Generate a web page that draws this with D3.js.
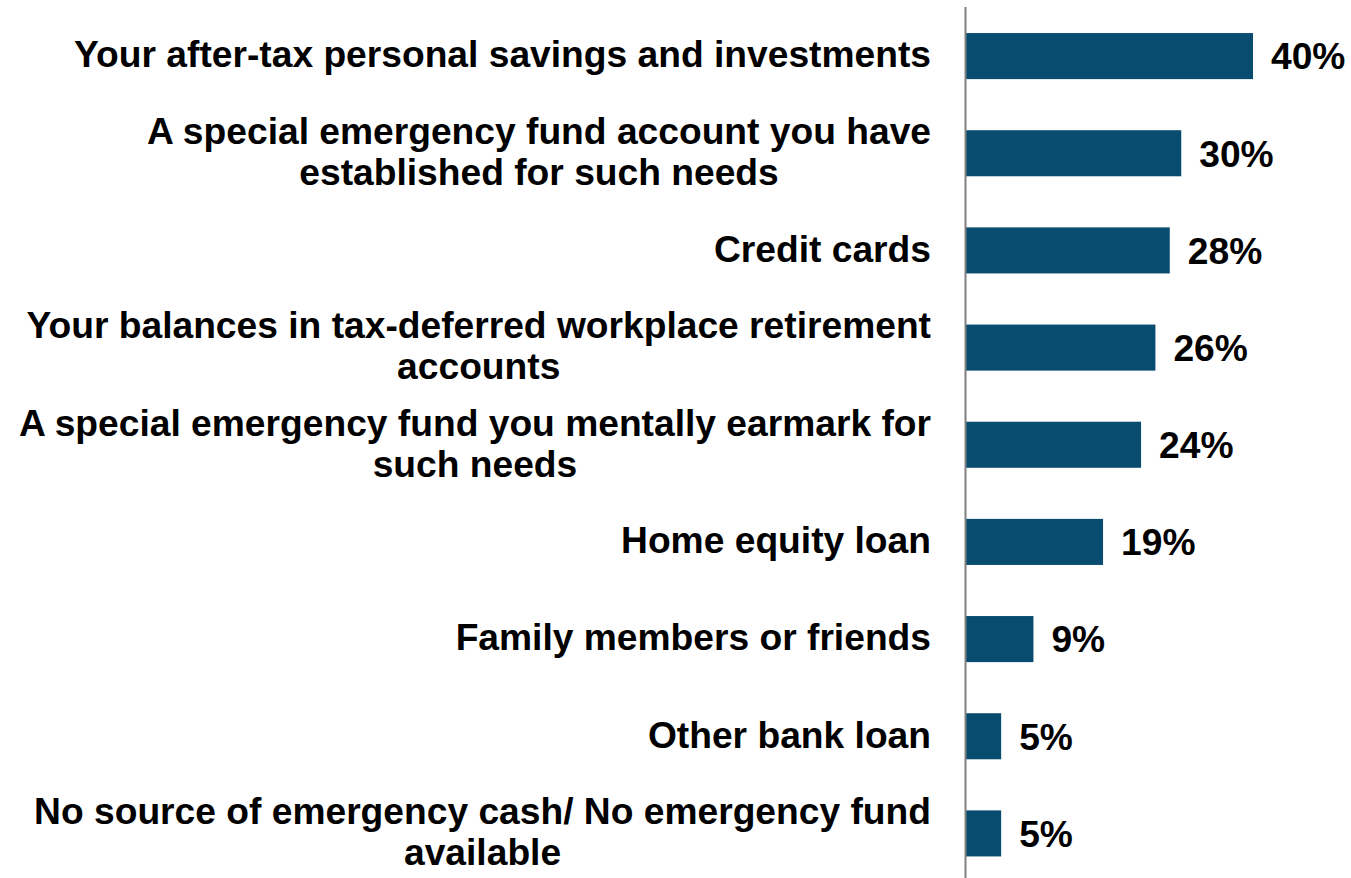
<!DOCTYPE html>
<html>
<head>
<meta charset="utf-8">
<script src="https://cdn.jsdelivr.net/npm/d3@7"></script>
<style>
  body { margin: 0; background: #fff; }
  text { font-family: "Liberation Sans", Arial, sans-serif; font-weight: bold; }
</style>
</head>
<body>
<script>
// categories, one entry per line of the label
var categories = [
  ['Your after-tax personal savings and investments'],
  ['A special emergency fund account you have', 'established for such needs'],
  ['Credit cards'],
  ['Your balances in tax-deferred workplace retirement', 'accounts'],
  ['A special emergency fund you mentally earmark for', 'such needs'],
  ['Home equity loan'],
  ['Family members or friends'],
  ['Other bank loan'],
  ['No source of emergency cash/ No emergency fund', 'available']
];
var values = [40.0, 30.0, 28.4, 26.4, 24.4, 19.1, 9.4, 4.9, 4.9];

var width = 1351,
    height = 878;
var axisX = 966;
var fontSize = 37.2;
var lineHeight = 41;

var svg = d3.select('body')
  .append('svg')
  .attr('width', width)
  .attr('height', height);

var x = d3.scaleLinear()
  .domain([0, 40])
  .range([axisX, 1253]);

var y = d3.scaleBand()
  .domain(d3.range(values.length))
  .range([7.5, 882])
  .paddingInner(0.526)
  .paddingOuter(0.263);

svg.selectAll('rect.bar')
  .data(values)
  .enter()
  .append('rect')
  .attr('class', 'bar')
  .attr('x', x(0))
  .attr('y', function(d, i) { return y(i); })
  .attr('width', function(d) { return x(d) - x(0); })
  .attr('height', y.bandwidth())
  .attr('fill', '#084c70');

// axis line
svg.append('line')
  .attr('x1', axisX - 0.5)
  .attr('x2', axisX - 0.5)
  .attr('y1', 7)
  .attr('y2', height)
  .attr('stroke', '#808080')
  .attr('stroke-width', 2);

var fmt = d3.format('.0f');
svg.selectAll('text.value')
  .data(values)
  .enter()
  .append('text')
  .attr('class', 'value')
  .attr('x', function(d) { return x(d) + 18; })
  .attr('y', function(d, i) { return y(i) + y.bandwidth() / 2; })
  .attr('dy', '0.36em')
  .attr('font-size', fontSize)
  .attr('fill', '#000')
  .text(function(d) { return fmt(d) + '%'; });

// category labels: centered lines, block right-aligned at labelRight
var labelRight = 931;
categories.forEach(function(lines, i) {
  var cy = y(i) + y.bandwidth() / 2;
  var t = svg.append('text')
    .attr('font-size', fontSize)
    .attr('fill', '#000')
    .attr('text-anchor', 'middle');
  var spans = lines.map(function(line, j) {
    return t.append('tspan')
      .attr('y', cy - 2 + (j - (lines.length - 1) / 2) * lineHeight)
      .attr('dy', '0.36em')
      .text(line);
  });
  var widest = d3.max(spans, function(s) { return s.node().getComputedTextLength(); });
  spans.forEach(function(s) { s.attr('x', labelRight - widest / 2); });
});
</script>
</body>
</html>
